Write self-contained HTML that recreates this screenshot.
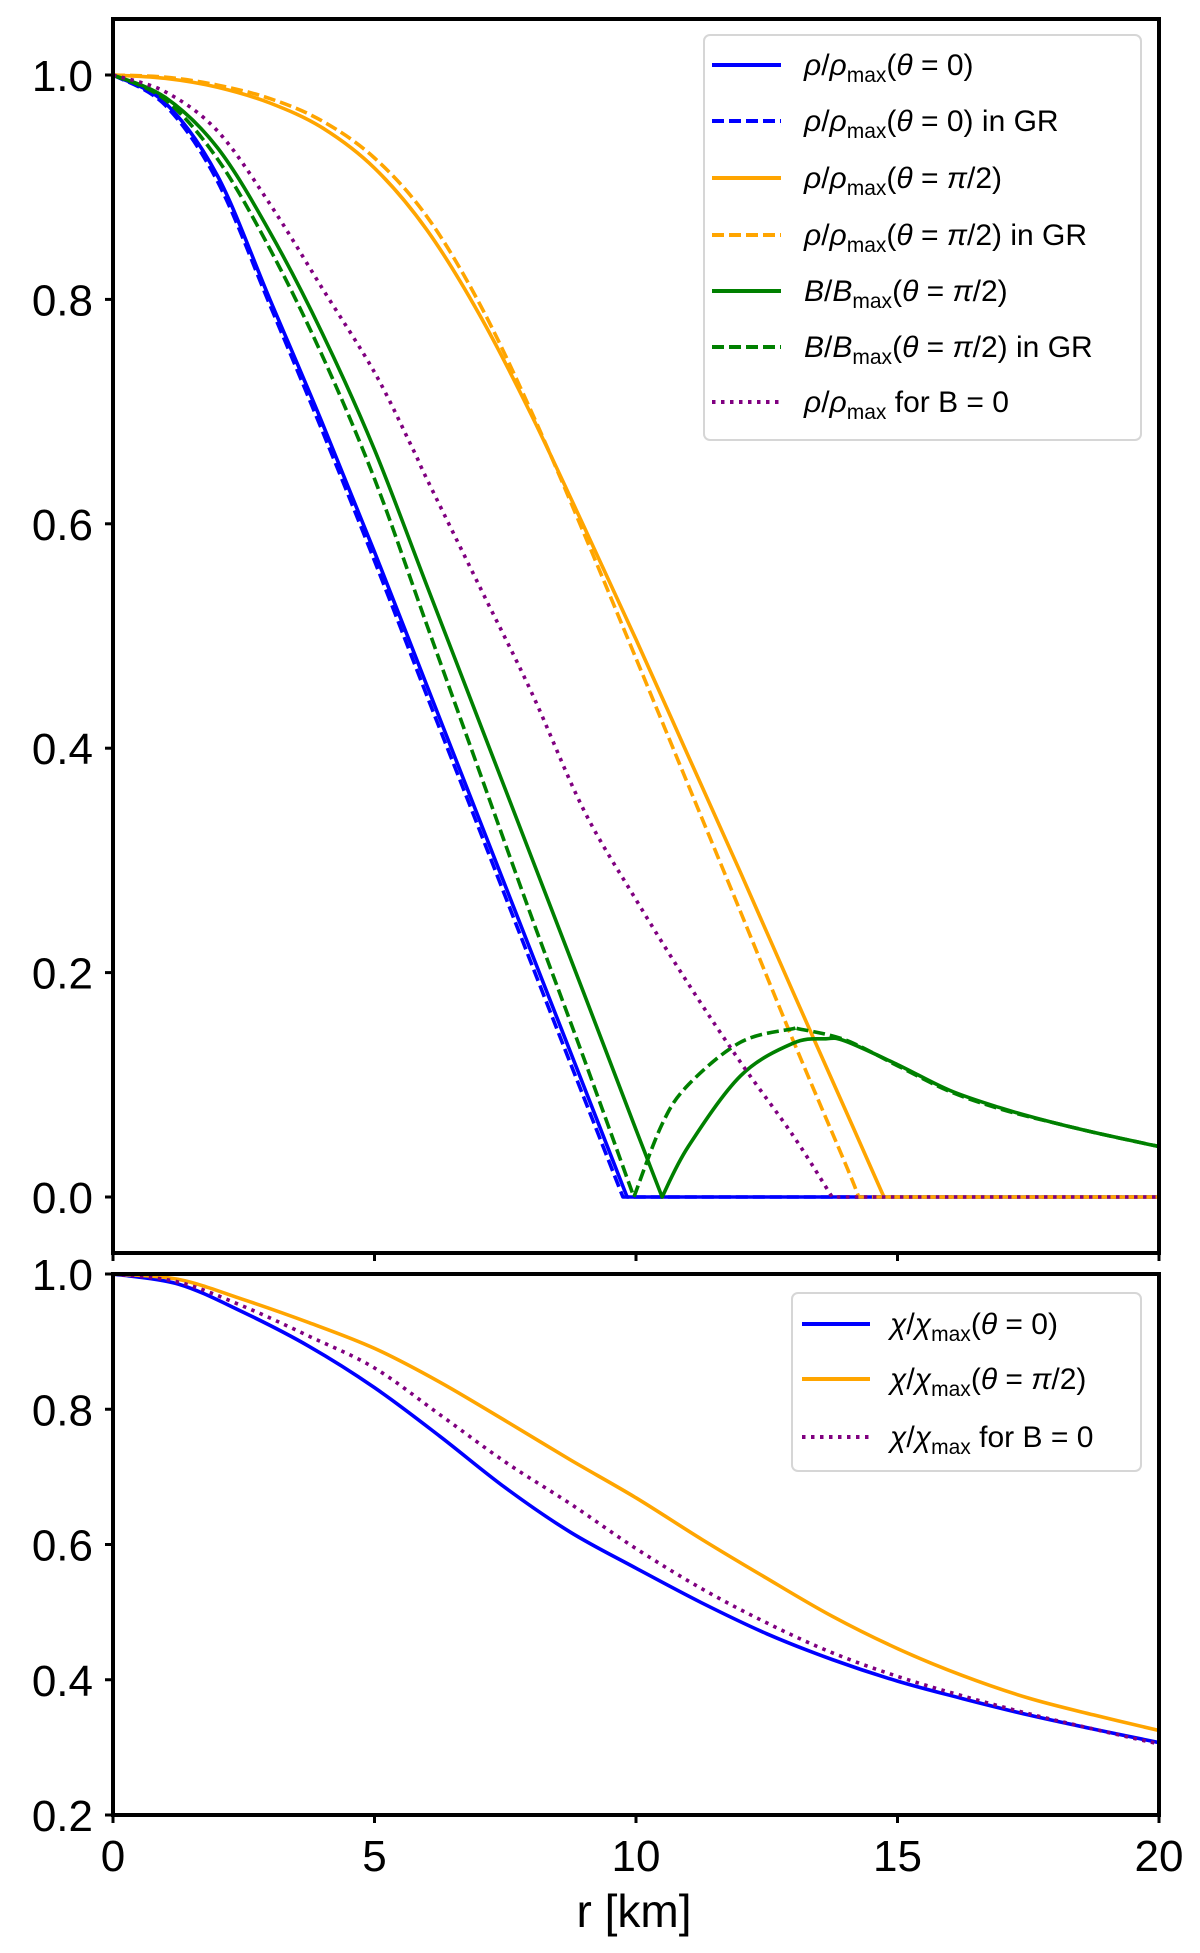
<!DOCTYPE html>
<html><head><meta charset="utf-8"><style>
html,body{margin:0;padding:0;background:#fff;}
svg{display:block;font-family:"Liberation Sans","DejaVu Sans",sans-serif;}
</style></head><body>
<svg id="chart" width="1200" height="1953" viewBox="0 0 1200 1953">
<g id="top"></g>
<g id="bot"></g>
<text x="634" y="1927" font-size="46" text-anchor="middle">r [km]</text>
</svg>
<script>
// ---------- data ----------
const topYTicks = [0.0, 0.2, 0.4, 0.6, 0.8, 1.0];
const botYTicks = [0.2, 0.4, 0.6, 0.8, 1.0];
const xTicks = [0, 5, 10, 15, 20];

const rhoPoleR = [0,1,2,3,4,5,6,7,8,9,9.83,20];
const rhoPoleV = [1,0.975,0.91,0.8,0.69,0.575,0.456,0.337,0.218,0.099,0,0];
const rhoPoleGRR = [0,1,2,3,4,5,6,7,8,9,9.75,20];
const rhoPoleGRV = [1,0.973,0.905,0.795,0.683,0.567,0.447,0.328,0.208,0.089,0,0];
const rhoEqR = [0,1,2,3,4,5,6,7,8,9,10,11,12,13,14,14.74,20];
const rhoEqV = [1,0.997,0.989,0.975,0.953,0.917,0.862,0.787,0.697,0.598,0.497,0.393,0.289,0.183,0.078,0,0];
const rhoEqGRR = [0,1,2,3,4,5,6,7,8,9,10,11,12,13,14,14.26,20];
const rhoEqGRV = [1,0.998,0.991,0.979,0.959,0.926,0.874,0.797,0.7,0.592,0.48,0.367,0.254,0.14,0.03,0,0];
const bEqR = [0,1,2,3,4,5,6,7,8,9,10,10.5,11,12,13,13.63,14,15,16,17,18,19,20];
const bEqV = [1,0.98,0.935,0.86,0.77,0.666,0.545,0.424,0.303,0.182,0.06,0,0.045,0.108,0.137,0.141,0.139,0.118,0.095,0.079,0.066,0.055,0.045];
const bEqGRR = [0,1,2,3,4,5,6,7,8,9,9.96,10.5,11,12,13,13.1,14,15,16,17,18,19,20];
const bEqGRV = [1,0.978,0.925,0.845,0.75,0.64,0.51,0.38,0.25,0.124,0,0.065,0.1,0.138,0.15,0.15,0.14,0.117,0.094,0.078,0.066,0.055,0.045];
const rhoB0R = [0,1,2,3,4,5,5.74,6,7,8,9,10,11,12,13,13.75,20];
const rhoB0V = [1,0.985,0.95,0.885,0.81,0.735,0.666,0.64,0.545,0.45,0.345,0.265,0.19,0.12,0.055,0,0];

const chiR = [0,1.25,2.5,3.75,5,6.25,7.5,8.75,10,11.25,12.5,13.75,15,16.25,17.5,18.75,20];
const chiPoleV = [1,0.985,0.943,0.893,0.832,0.76,0.684,0.618,0.565,0.514,0.468,0.43,0.398,0.372,0.348,0.327,0.307];
const chiEqV = [1,0.992,0.962,0.928,0.89,0.84,0.783,0.725,0.669,0.608,0.55,0.494,0.446,0.406,0.373,0.348,0.325];
const chiB0V = [1,0.988,0.952,0.908,0.861,0.792,0.722,0.66,0.594,0.535,0.484,0.44,0.405,0.376,0.35,0.327,0.305];

// ---------- layout ----------
const NS = "http://www.w3.org/2000/svg";
const X0 = 113, X1 = 1159;
const xs = r => X0 + (X1 - X0) * r / 20;
const topY = v => 1197 - 1122 * v;
const botY = v => 1274 + (1815 - 1274) * (1 - v) / 0.8;

function mk(tag, attrs, parent) {
  const e = document.createElementNS(NS, tag);
  for (const k in attrs) e.setAttribute(k, attrs[k]);
  parent.appendChild(e);
  return e;
}
const topG = document.getElementById('top');
const botG = document.getElementById('bot');

function crSeg(p) {
  let d = '';
  for (let i = 0; i < p.length - 1; i++) {
    const a = p[i - 1] || p[i], b = p[i], c = p[i + 1], e = p[i + 2] || c;
    d += ' C' + (b[0] + (c[0] - a[0]) / 6).toFixed(1) + ',' + (b[1] + (c[1] - a[1]) / 6).toFixed(1) + ' ' + (c[0] - (e[0] - b[0]) / 6).toFixed(1) + ',' + (c[1] - (e[1] - b[1]) / 6).toFixed(1) + ' ' + c[0].toFixed(1) + ',' + c[1].toFixed(1);
  }
  return d;
}
function smoothPath(R, V, yf) {
  const pts = R.map((r, i) => [xs(r), yf(V[i])]);
  const segs = [];
  let cur = [pts[0]];
  for (let i = 1; i < pts.length; i++) {
    cur.push(pts[i]);
    if (V[i] === 0 && i < pts.length - 1) { segs.push(cur); cur = [pts[i]]; }
  }
  segs.push(cur);
  let d = 'M' + pts[0][0].toFixed(1) + ',' + pts[0][1].toFixed(1);
  segs.forEach(s => { d += crSeg(s); });
  return d;
}
const DASH = '12,5', DOT = '3.5,5.5';
const LW = 3.6;

const defs = mk('defs', {}, document.getElementById('chart'));
const c1 = mk('clipPath', {id: 'c1'}, defs); mk('rect', {x: X0, y: 19, width: X1 - X0, height: 1234}, c1);
const c2 = mk('clipPath', {id: 'c2'}, defs); mk('rect', {x: X0, y: 1274, width: X1 - X0, height: 541}, c2);

// ---------- top panel ----------
const topSeries = [
  ['rho-pole-line', rhoPoleR, rhoPoleV, '#0000ff', null],
  ['rho-pole-gr-line', rhoPoleGRR, rhoPoleGRV, '#0000ff', DASH],
  ['rho-eq-line', rhoEqR, rhoEqV, '#ffa500', null],
  ['rho-eq-gr-line', rhoEqGRR, rhoEqGRV, '#ffa500', DASH],
  ['b-eq-line', bEqR, bEqV, '#008000', null],
  ['b-eq-gr-line', bEqGRR, bEqGRV, '#008000', DASH],
  ['rho-b0-line', rhoB0R, rhoB0V, '#800080', DOT]
];
const tg = mk('g', {'clip-path': 'url(#c1)'}, topG);
topSeries.forEach(s => {
  const p = mk('path', {d: smoothPath(s[1], s[2], topY), fill: 'none', stroke: s[3], 'stroke-width': LW, 'stroke-linejoin': 'round'}, tg);
  if (s[4]) p.setAttribute('stroke-dasharray', s[4]);
  
  
});
topYTicks.forEach(v => {
  const y = topY(v);
  mk('line', {x1: 105, x2: X0, y1: y, y2: y, stroke: '#000', 'stroke-width': 3}, topG);
  const t = mk('text', {x: 93, y: y + 16, 'font-size': 44, 'text-anchor': 'end'}, topG);
  t.textContent = v.toFixed(1);
  
  
});
xTicks.forEach(r => {
  mk('line', {x1: xs(r), x2: xs(r), y1: 1253, y2: 1261, stroke: '#000', 'stroke-width': 3}, topG);
});
mk('rect', {x: X0, y: 19, width: X1 - X0, height: 1234, fill: 'none', stroke: '#000', 'stroke-width': 4,  }, topG);

// ---------- bottom panel ----------
const botSeries = [
  ['chi-pole-line', chiPoleV, '#0000ff', null],
  ['chi-eq-line', chiEqV, '#ffa500', null],
  ['chi-b0-line', chiB0V, '#800080', DOT]
];
const bg = mk('g', {'clip-path': 'url(#c2)'}, botG);
botSeries.forEach(s => {
  const p = mk('path', {d: smoothPath(chiR, s[1], botY), fill: 'none', stroke: s[2], 'stroke-width': LW}, bg);
  if (s[3]) p.setAttribute('stroke-dasharray', s[3]);
  
  
});
botYTicks.forEach(v => {
  const y = botY(v);
  mk('line', {x1: 105, x2: X0, y1: y, y2: y, stroke: '#000', 'stroke-width': 3}, botG);
  const t = mk('text', {x: 93, y: y + 16, 'font-size': 44, 'text-anchor': 'end'}, botG);
  t.textContent = v.toFixed(1);
  
  
});
xTicks.forEach(r => {
  mk('line', {x1: xs(r), x2: xs(r), y1: 1815, y2: 1823, stroke: '#000', 'stroke-width': 3}, botG);
  const t = mk('text', {x: xs(r), y: 1871, 'font-size': 44, 'text-anchor': 'middle'}, botG);
  t.textContent = String(r);
  
  
});
mk('rect', {x: X0, y: 1274, width: X1 - X0, height: 541, fill: 'none', stroke: '#000', 'stroke-width': 4,  }, botG);

// ---------- legends ----------
function legend(parent, box, entries, lx0, lx1, tx, name) {
  const g = mk('g', {}, parent);
  
  
  mk('rect', {x: box[0], y: box[1], width: box[2], height: box[3], rx: 6, fill: '#fff', 'fill-opacity': 0.85, stroke: '#d6d6d6', 'stroke-width': 2}, g);
  entries.forEach(e => {
    const l = mk('line', {x1: lx0, x2: lx1, y1: e.y, y2: e.y, stroke: e.c, 'stroke-width': 4}, g);
    if (e.d) l.setAttribute('stroke-dasharray', e.d);
    const t = mk('text', {x: tx, y: e.y + 10, 'font-size': 30}, g);
    t.innerHTML = e.h;
    
    
  });
}
const sub = s => '<tspan font-size="21" dy="7">' + s + '</tspan><tspan dy="-7">';
const rho = '<tspan font-style="italic">ρ</tspan>/<tspan font-style="italic">ρ</tspan>' + sub('max');
const Bm = '<tspan font-style="italic">B</tspan>/<tspan font-style="italic">B</tspan>' + sub('max');
const chi = '<tspan font-style="italic">χ</tspan>/<tspan font-style="italic">χ</tspan>' + sub('max');
const th0 = '(<tspan font-style="italic">θ</tspan> = 0)</tspan>';
const thp = '(<tspan font-style="italic">θ</tspan> = <tspan font-style="italic">π</tspan>/2)</tspan>';
legend(topG, [704, 35, 437, 405], [
  {y: 65, c: '#0000ff', h: rho + th0},
  {y: 121, c: '#0000ff', d: DASH, h: rho + th0 + ' in GR'},
  {y: 178, c: '#ffa500', h: rho + thp},
  {y: 235, c: '#ffa500', d: DASH, h: rho + thp + ' in GR'},
  {y: 291, c: '#008000', h: Bm + thp},
  {y: 347, c: '#008000', d: DASH, h: Bm + thp + ' in GR'},
  {y: 402, c: '#800080', d: DOT, h: rho + ' for B = 0</tspan>'}
], 712, 781, 804, 'top-legend');
legend(botG, [792, 1293, 349, 178], [
  {y: 1324, c: '#0000ff', h: chi + th0},
  {y: 1379, c: '#ffa500', h: chi + thp},
  {y: 1437, c: '#800080', d: DOT, h: chi + ' for B = 0</tspan>'}
], 802, 870, 890, 'bottom-legend');
</script>
</body></html>
